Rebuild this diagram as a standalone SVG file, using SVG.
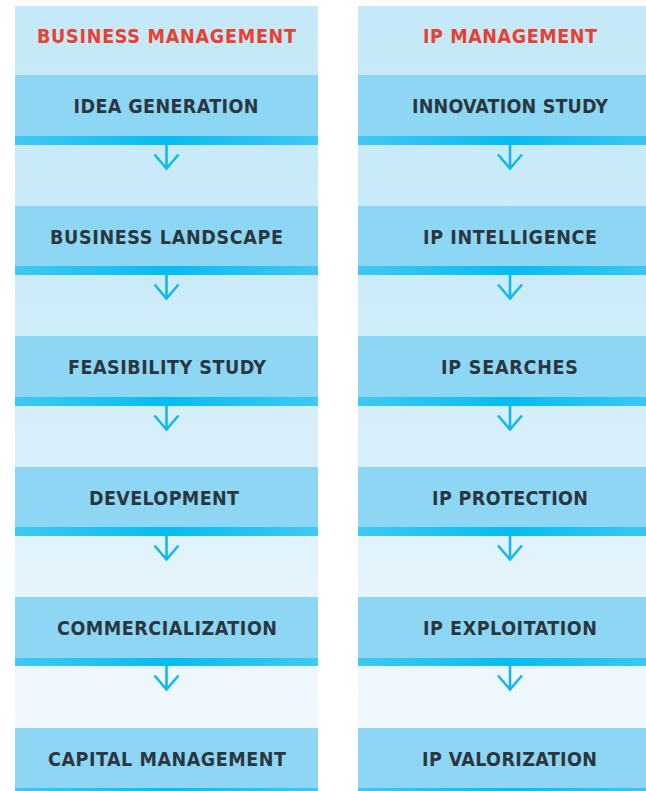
<svg xmlns="http://www.w3.org/2000/svg" width="646" height="791" viewBox="0 0 646 791">
<defs>
<linearGradient id="bg" x1="0" y1="6" x2="0" y2="791" gradientUnits="userSpaceOnUse">
<stop offset="0" stop-color="#c5e9f8"/>
<stop offset="0.35" stop-color="#ccebf9"/>
<stop offset="0.6" stop-color="#d9f0fb"/>
<stop offset="0.85" stop-color="#eef7fd"/>
<stop offset="1" stop-color="#f4fafd"/>
</linearGradient>
<linearGradient id="stripe" x1="0" y1="0" x2="1" y2="0">
<stop offset="0" stop-color="#40c8f2"/>
<stop offset="0.5" stop-color="#06bcf0"/>
<stop offset="1" stop-color="#40c8f2"/>
</linearGradient>
<style>
.node{fill:#8dd7f5}
.stripe{fill:url(#stripe)}
.lbl,.hdr{font-family:"DejaVu Sans Condensed","DejaVu Sans",Roboto,sans-serif;font-stretch:condensed;font-weight:700;font-size:19.5px;text-anchor:middle}
.lbl{fill:#2b3640}
.hdr{fill:#ea4030}
.arr{fill:none;stroke:#14b8ea;stroke-width:2.6}
</style>
</defs>
<rect width="646" height="791" fill="#ffffff"/>
<rect x="15" y="6" width="303" height="785" fill="url(#bg)"/>
<rect x="358" y="6" width="304" height="785" fill="url(#bg)"/>

<g id="hdr-business"><text class="hdr" x="166.5" y="43" textLength="259" lengthAdjust="spacing">BUSINESS MANAGEMENT</text></g>
<g id="hdr-ip"><text class="hdr" x="510" y="43" textLength="174" lengthAdjust="spacing">IP MANAGEMENT</text></g>

<g id="b1"><rect class="node" x="15" y="75" width="303" height="61"/><rect class="stripe" x="15" y="136" width="303" height="9"/><text class="lbl" x="166" y="113" textLength="185" lengthAdjust="spacing">IDEA GENERATION</text></g>
<g id="b2"><rect class="node" x="15" y="206" width="303" height="61"/><rect class="stripe" x="15" y="266" width="303" height="9"/><text class="lbl" x="166.5" y="244" textLength="233" lengthAdjust="spacing">BUSINESS LANDSCAPE</text></g>
<g id="b3"><rect class="node" x="15" y="336" width="303" height="61"/><rect class="stripe" x="15" y="397" width="303" height="9"/><text class="lbl" x="167" y="374" textLength="198" lengthAdjust="spacing">FEASIBILITY STUDY</text></g>
<g id="b4"><rect class="node" x="15" y="467" width="303" height="61"/><rect class="stripe" x="15" y="527" width="303" height="9"/><text class="lbl" x="164" y="505" textLength="150" lengthAdjust="spacing">DEVELOPMENT</text></g>
<g id="b5"><rect class="node" x="15" y="597" width="303" height="61"/><rect class="stripe" x="15" y="658" width="303" height="8"/><text class="lbl" x="167" y="635" textLength="220" lengthAdjust="spacing">COMMERCIALIZATION</text></g>
<g id="b6"><rect class="node" x="15" y="728" width="303" height="61"/><rect class="stripe" x="15" y="788" width="303" height="3"/><text class="lbl" x="167" y="766" textLength="238" lengthAdjust="spacing">CAPITAL MANAGEMENT</text></g>

<g id="i1"><rect class="node" x="358" y="75" width="304" height="61"/><rect class="stripe" x="358" y="136" width="304" height="9"/><text class="lbl" x="510" y="113" textLength="196" lengthAdjust="spacing">INNOVATION STUDY</text></g>
<g id="i2"><rect class="node" x="358" y="206" width="304" height="61"/><rect class="stripe" x="358" y="266" width="304" height="9"/><text class="lbl" x="510" y="244" textLength="174" lengthAdjust="spacing">IP INTELLIGENCE</text></g>
<g id="i3"><rect class="node" x="358" y="336" width="304" height="61"/><rect class="stripe" x="358" y="397" width="304" height="9"/><text class="lbl" x="509.5" y="374" textLength="137" lengthAdjust="spacing">IP SEARCHES</text></g>
<g id="i4"><rect class="node" x="358" y="467" width="304" height="61"/><rect class="stripe" x="358" y="527" width="304" height="9"/><text class="lbl" x="510" y="505" textLength="156" lengthAdjust="spacing">IP PROTECTION</text></g>
<g id="i5"><rect class="node" x="358" y="597" width="304" height="61"/><rect class="stripe" x="358" y="658" width="304" height="8"/><text class="lbl" x="510" y="635" textLength="174" lengthAdjust="spacing">IP EXPLOITATION</text></g>
<g id="i6"><rect class="node" x="358" y="728" width="304" height="61"/><rect class="stripe" x="358" y="788" width="304" height="3"/><text class="lbl" x="509.5" y="766" textLength="175" lengthAdjust="spacing">IP VALORIZATION</text></g>

<g id="connectors">
<path class="arr" d="M166.5 145V169M154.5 154.5L166.5 168.5L178.5 154.5"/>
<path class="arr" d="M166.5 275V299M154.5 284.5L166.5 298.5L178.5 284.5"/>
<path class="arr" d="M166.5 406V430M154.5 415.5L166.5 429.5L178.5 415.5"/>
<path class="arr" d="M166.5 536V560M154.5 545.5L166.5 559.5L178.5 545.5"/>
<path class="arr" d="M166.5 666V690M154.5 675.5L166.5 689.5L178.5 675.5"/>
<path class="arr" d="M510 145V169M498 154.5L510 168.5L522 154.5"/>
<path class="arr" d="M510 275V299M498 284.5L510 298.5L522 284.5"/>
<path class="arr" d="M510 406V430M498 415.5L510 429.5L522 415.5"/>
<path class="arr" d="M510 536V560M498 545.5L510 559.5L522 545.5"/>
<path class="arr" d="M510 666V690M498 675.5L510 689.5L522 675.5"/>
</g>
</svg>
